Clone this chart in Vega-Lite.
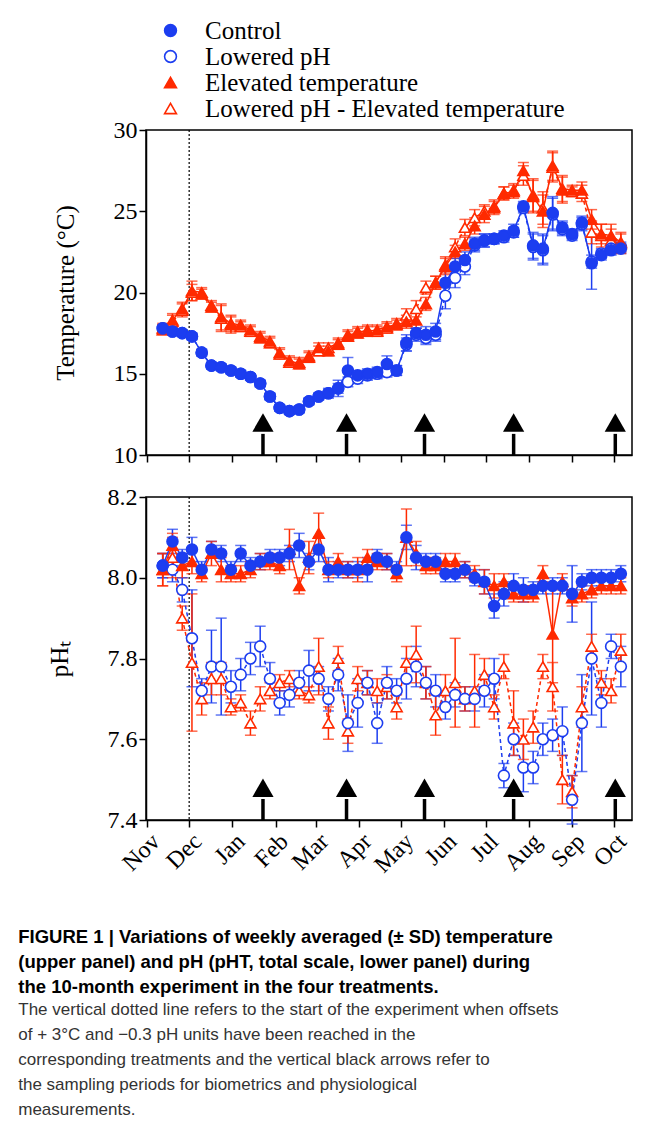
{
  "$schema": "https://vega.github.io/schema/vega-lite/v6.json",
  "background": "white",
  "padding": {"left": 18, "top": 17, "right": 10, "bottom": 10},
  "config": {
    "view": {"stroke": "black", "strokeWidth": 1.5},
    "axis": {"grid": false, "labelFont": "Liberation Serif", "labelFontSize": 24, "labelColor": "black", "titleFont": "Liberation Serif", "titleFontSize": 25, "titleFontWeight": "normal", "titleColor": "black", "tickColor": "black", "tickSize": 7, "tickWidth": 1.5, "domainColor": "black", "domainWidth": 1.5, "labelOverlap": false}
  },
  "title": {
    "text": ["FIGURE 1 | Variations of weekly averaged (± SD) temperature", "(upper panel) and pH (pHT, total scale, lower panel) during", "the 10-month experiment in the four treatments."],
    "subtitle": ["The vertical dotted line refers to the start of the experiment when offsets", "of + 3°C and −0.3 pH units have been reached in the", "corresponding treatments and the vertical black arrows refer to", "the sampling periods for biometrics and physiological", "measurements."],
    "orient": "bottom", "anchor": "start", "offset": 50, "dx": -28,
    "font": "Liberation Sans", "fontSize": 18.5, "fontWeight": "bold", "color": "black", "lineHeight": 25,
    "subtitleFont": "Liberation Sans", "subtitleFontSize": 17, "subtitleColor": "#333", "subtitleLineHeight": 25, "subtitlePadding": 6
  },
  "datasets": {
    "w": [
      {"d":"2011-11-12","g":"Control","t":17.8,"ts":0.2,"p":8.03,"ps":0.03},
      {"d":"2011-11-19","g":"Control","t":17.6,"ts":0.2,"p":8.09,"ps":0.03},
      {"d":"2011-11-26","g":"Control","t":17.5,"ts":0.2,"p":8.05,"ps":0.02},
      {"d":"2011-12-03","g":"Control","t":17.3,"ts":0.2,"p":8.07,"ps":0.03},
      {"d":"2011-12-10","g":"Control","t":16.3,"ts":0.2,"p":8.02,"ps":0.02},
      {"d":"2011-12-17","g":"Control","t":15.5,"ts":0.2,"p":8.07,"ps":0.02},
      {"d":"2011-12-24","g":"Control","t":15.4,"ts":0.2,"p":8.06,"ps":0.02},
      {"d":"2011-12-31","g":"Control","t":15.2,"ts":0.2,"p":8.02,"ps":0.02},
      {"d":"2012-01-07","g":"Control","t":15.0,"ts":0.2,"p":8.06,"ps":0.02},
      {"d":"2012-01-14","g":"Control","t":14.8,"ts":0.2,"p":8.03,"ps":0.02},
      {"d":"2012-01-21","g":"Control","t":14.4,"ts":0.2,"p":8.04,"ps":0.02},
      {"d":"2012-01-28","g":"Control","t":13.6,"ts":0.2,"p":8.05,"ps":0.02},
      {"d":"2012-02-04","g":"Control","t":12.9,"ts":0.2,"p":8.05,"ps":0.02},
      {"d":"2012-02-11","g":"Control","t":12.7,"ts":0.2,"p":8.06,"ps":0.02},
      {"d":"2012-02-18","g":"Control","t":12.8,"ts":0.2,"p":8.08,"ps":0.03},
      {"d":"2012-02-25","g":"Control","t":13.3,"ts":0.2,"p":8.04,"ps":0.02},
      {"d":"2012-03-03","g":"Control","t":13.6,"ts":0.2,"p":8.07,"ps":0.03},
      {"d":"2012-03-10","g":"Control","t":13.8,"ts":0.3,"p":8.02,"ps":0.03},
      {"d":"2012-03-17","g":"Control","t":14.1,"ts":0.5,"p":8.02,"ps":0.02},
      {"d":"2012-03-24","g":"Control","t":15.2,"ts":0.8,"p":8.02,"ps":0.02},
      {"d":"2012-03-31","g":"Control","t":14.9,"ts":0.3,"p":8.02,"ps":0.02},
      {"d":"2012-04-07","g":"Control","t":15.0,"ts":0.3,"p":8.02,"ps":0.03},
      {"d":"2012-04-14","g":"Control","t":15.1,"ts":0.3,"p":8.05,"ps":0.02},
      {"d":"2012-04-21","g":"Control","t":15.6,"ts":0.5,"p":8.04,"ps":0.02},
      {"d":"2012-04-28","g":"Control","t":15.2,"ts":0.3,"p":8.02,"ps":0.02},
      {"d":"2012-05-05","g":"Control","t":16.9,"ts":0.5,"p":8.10,"ps":0.03},
      {"d":"2012-05-12","g":"Control","t":17.5,"ts":0.3,"p":8.05,"ps":0.03},
      {"d":"2012-05-19","g":"Control","t":17.4,"ts":0.5,"p":8.04,"ps":0.02},
      {"d":"2012-05-26","g":"Control","t":17.6,"ts":0.5,"p":8.04,"ps":0.02},
      {"d":"2012-06-02","g":"Control","t":20.6,"ts":0.8,"p":8.01,"ps":0.02},
      {"d":"2012-06-09","g":"Control","t":21.6,"ts":0.5,"p":8.01,"ps":0.02},
      {"d":"2012-06-16","g":"Control","t":22.0,"ts":0.5,"p":8.02,"ps":0.02},
      {"d":"2012-06-23","g":"Control","t":23.0,"ts":0.4,"p":8.00,"ps":0.02},
      {"d":"2012-06-30","g":"Control","t":23.2,"ts":0.4,"p":7.99,"ps":0.03},
      {"d":"2012-07-07","g":"Control","t":23.3,"ts":0.3,"p":7.93,"ps":0.03},
      {"d":"2012-07-14","g":"Control","t":23.5,"ts":0.3,"p":7.96,"ps":0.03},
      {"d":"2012-07-21","g":"Control","t":23.8,"ts":0.4,"p":7.98,"ps":0.03},
      {"d":"2012-07-28","g":"Control","t":25.3,"ts":0.3,"p":7.97,"ps":0.03},
      {"d":"2012-08-04","g":"Control","t":22.9,"ts":0.8,"p":7.97,"ps":0.02},
      {"d":"2012-08-11","g":"Control","t":22.7,"ts":0.9,"p":7.98,"ps":0.02},
      {"d":"2012-08-18","g":"Control","t":24.9,"ts":1.0,"p":7.98,"ps":0.02},
      {"d":"2012-08-25","g":"Control","t":24.0,"ts":0.4,"p":7.98,"ps":0.02},
      {"d":"2012-09-01","g":"Control","t":23.6,"ts":0.3,"p":7.96,"ps":0.07},
      {"d":"2012-09-08","g":"Control","t":24.3,"ts":0.4,"p":7.99,"ps":0.02},
      {"d":"2012-09-15","g":"Control","t":21.8,"ts":1.6,"p":8.00,"ps":0.02},
      {"d":"2012-09-22","g":"Control","t":22.3,"ts":0.3,"p":8.00,"ps":0.02},
      {"d":"2012-09-29","g":"Control","t":22.6,"ts":0.3,"p":8.00,"ps":0.02},
      {"d":"2012-10-06","g":"Control","t":22.7,"ts":0.3,"p":8.01,"ps":0.02},

      {"d":"2011-11-12","g":"Lowered pH","t":17.8,"ts":0.2,"p":8.03,"ps":0.03},
      {"d":"2011-11-19","g":"Lowered pH","t":17.6,"ts":0.2,"p":8.02,"ps":0.03},
      {"d":"2011-11-26","g":"Lowered pH","t":17.5,"ts":0.2,"p":7.97,"ps":0.03},
      {"d":"2011-12-03","g":"Lowered pH","t":17.3,"ts":0.2,"p":7.85,"ps":0.12},
      {"d":"2011-12-10","g":"Lowered pH","t":16.3,"ts":0.2,"p":7.72,"ps":0.03},
      {"d":"2011-12-17","g":"Lowered pH","t":15.5,"ts":0.2,"p":7.78,"ps":0.09},
      {"d":"2011-12-24","g":"Lowered pH","t":15.4,"ts":0.2,"p":7.78,"ps":0.12},
      {"d":"2011-12-31","g":"Lowered pH","t":15.2,"ts":0.2,"p":7.73,"ps":0.04},
      {"d":"2012-01-07","g":"Lowered pH","t":15.0,"ts":0.2,"p":7.76,"ps":0.04},
      {"d":"2012-01-14","g":"Lowered pH","t":14.8,"ts":0.2,"p":7.80,"ps":0.04},
      {"d":"2012-01-21","g":"Lowered pH","t":14.4,"ts":0.2,"p":7.83,"ps":0.05},
      {"d":"2012-01-28","g":"Lowered pH","t":13.6,"ts":0.2,"p":7.75,"ps":0.04},
      {"d":"2012-02-04","g":"Lowered pH","t":12.9,"ts":0.2,"p":7.69,"ps":0.03},
      {"d":"2012-02-11","g":"Lowered pH","t":12.7,"ts":0.2,"p":7.71,"ps":0.03},
      {"d":"2012-02-18","g":"Lowered pH","t":12.8,"ts":0.2,"p":7.74,"ps":0.03},
      {"d":"2012-02-25","g":"Lowered pH","t":13.3,"ts":0.2,"p":7.77,"ps":0.05},
      {"d":"2012-03-03","g":"Lowered pH","t":13.6,"ts":0.2,"p":7.75,"ps":0.03},
      {"d":"2012-03-10","g":"Lowered pH","t":13.8,"ts":0.2,"p":7.70,"ps":0.03},
      {"d":"2012-03-17","g":"Lowered pH","t":14.1,"ts":0.3,"p":7.76,"ps":0.04},
      {"d":"2012-03-24","g":"Lowered pH","t":14.5,"ts":0.3,"p":7.64,"ps":0.07},
      {"d":"2012-03-31","g":"Lowered pH","t":14.7,"ts":0.3,"p":7.69,"ps":0.06},
      {"d":"2012-04-07","g":"Lowered pH","t":14.9,"ts":0.3,"p":7.74,"ps":0.03},
      {"d":"2012-04-14","g":"Lowered pH","t":15.0,"ts":0.3,"p":7.64,"ps":0.05},
      {"d":"2012-04-21","g":"Lowered pH","t":15.1,"ts":0.3,"p":7.74,"ps":0.04},
      {"d":"2012-04-28","g":"Lowered pH","t":15.2,"ts":0.3,"p":7.72,"ps":0.03},
      {"d":"2012-05-05","g":"Lowered pH","t":16.8,"ts":0.4,"p":7.75,"ps":0.05},
      {"d":"2012-05-12","g":"Lowered pH","t":17.4,"ts":0.4,"p":7.78,"ps":0.05},
      {"d":"2012-05-19","g":"Lowered pH","t":17.2,"ts":0.4,"p":7.74,"ps":0.04},
      {"d":"2012-05-26","g":"Lowered pH","t":17.4,"ts":0.4,"p":7.72,"ps":0.04},
      {"d":"2012-06-02","g":"Lowered pH","t":19.8,"ts":0.8,"p":7.68,"ps":0.03},
      {"d":"2012-06-09","g":"Lowered pH","t":20.9,"ts":0.6,"p":7.71,"ps":0.03},
      {"d":"2012-06-16","g":"Lowered pH","t":21.6,"ts":0.5,"p":7.70,"ps":0.03},
      {"d":"2012-06-23","g":"Lowered pH","t":22.9,"ts":0.4,"p":7.70,"ps":0.03},
      {"d":"2012-06-30","g":"Lowered pH","t":23.2,"ts":0.4,"p":7.72,"ps":0.04},
      {"d":"2012-07-07","g":"Lowered pH","t":23.3,"ts":0.3,"p":7.75,"ps":0.05},
      {"d":"2012-07-14","g":"Lowered pH","t":23.4,"ts":0.3,"p":7.51,"ps":0.03},
      {"d":"2012-07-21","g":"Lowered pH","t":23.7,"ts":0.3,"p":7.60,"ps":0.04},
      {"d":"2012-07-28","g":"Lowered pH","t":25.2,"ts":0.3,"p":7.53,"ps":0.06},
      {"d":"2012-08-04","g":"Lowered pH","t":22.8,"ts":0.8,"p":7.53,"ps":0.04},
      {"d":"2012-08-11","g":"Lowered pH","t":22.6,"ts":0.9,"p":7.60,"ps":0.04},
      {"d":"2012-08-18","g":"Lowered pH","t":24.8,"ts":1.0,"p":7.61,"ps":0.04},
      {"d":"2012-08-25","g":"Lowered pH","t":23.9,"ts":0.4,"p":7.62,"ps":0.06},
      {"d":"2012-09-01","g":"Lowered pH","t":23.5,"ts":0.3,"p":7.45,"ps":0.06},
      {"d":"2012-09-08","g":"Lowered pH","t":24.2,"ts":0.4,"p":7.64,"ps":0.12},
      {"d":"2012-09-15","g":"Lowered pH","t":21.9,"ts":0.4,"p":7.80,"ps":0.14},
      {"d":"2012-09-22","g":"Lowered pH","t":22.4,"ts":0.3,"p":7.69,"ps":0.06},
      {"d":"2012-09-29","g":"Lowered pH","t":22.7,"ts":0.3,"p":7.83,"ps":0.03},
      {"d":"2012-10-06","g":"Lowered pH","t":22.8,"ts":0.3,"p":7.78,"ps":0.05},

      {"d":"2011-11-12","g":"Elevated temperature","t":17.8,"ts":0.3,"p":8.02,"ps":0.04},
      {"d":"2011-11-19","g":"Elevated temperature","t":18.3,"ts":0.4,"p":8.08,"ps":0.03},
      {"d":"2011-11-26","g":"Elevated temperature","t":19.0,"ts":0.4,"p":8.03,"ps":0.03},
      {"d":"2011-12-03","g":"Elevated temperature","t":20.1,"ts":0.6,"p":8.04,"ps":0.03},
      {"d":"2011-12-10","g":"Elevated temperature","t":20.0,"ts":0.3,"p":8.01,"ps":0.02},
      {"d":"2011-12-17","g":"Elevated temperature","t":19.2,"ts":0.3,"p":8.06,"ps":0.03},
      {"d":"2011-12-24","g":"Elevated temperature","t":18.5,"ts":0.8,"p":8.02,"ps":0.03},
      {"d":"2011-12-31","g":"Elevated temperature","t":18.1,"ts":0.5,"p":8.01,"ps":0.02},
      {"d":"2012-01-07","g":"Elevated temperature","t":18.0,"ts":0.3,"p":8.01,"ps":0.02},
      {"d":"2012-01-14","g":"Elevated temperature","t":17.7,"ts":0.3,"p":8.02,"ps":0.02},
      {"d":"2012-01-21","g":"Elevated temperature","t":17.3,"ts":0.3,"p":8.04,"ps":0.02},
      {"d":"2012-01-28","g":"Elevated temperature","t":17.0,"ts":0.3,"p":8.04,"ps":0.02},
      {"d":"2012-02-04","g":"Elevated temperature","t":16.3,"ts":0.3,"p":8.03,"ps":0.02},
      {"d":"2012-02-11","g":"Elevated temperature","t":15.8,"ts":0.3,"p":8.07,"ps":0.05},
      {"d":"2012-02-18","g":"Elevated temperature","t":15.6,"ts":0.3,"p":7.98,"ps":0.02},
      {"d":"2012-02-25","g":"Elevated temperature","t":16.0,"ts":0.3,"p":8.05,"ps":0.04},
      {"d":"2012-03-03","g":"Elevated temperature","t":16.6,"ts":0.3,"p":8.11,"ps":0.05},
      {"d":"2012-03-10","g":"Elevated temperature","t":16.4,"ts":0.3,"p":8.02,"ps":0.02},
      {"d":"2012-03-17","g":"Elevated temperature","t":16.8,"ts":0.3,"p":8.04,"ps":0.02},
      {"d":"2012-03-24","g":"Elevated temperature","t":17.3,"ts":0.3,"p":8.02,"ps":0.02},
      {"d":"2012-03-31","g":"Elevated temperature","t":17.6,"ts":0.3,"p":8.02,"ps":0.03},
      {"d":"2012-04-07","g":"Elevated temperature","t":17.6,"ts":0.3,"p":8.05,"ps":0.02},
      {"d":"2012-04-14","g":"Elevated temperature","t":17.7,"ts":0.3,"p":8.04,"ps":0.02},
      {"d":"2012-04-21","g":"Elevated temperature","t":17.9,"ts":0.3,"p":8.04,"ps":0.02},
      {"d":"2012-04-28","g":"Elevated temperature","t":18.0,"ts":0.3,"p":8.01,"ps":0.02},
      {"d":"2012-05-05","g":"Elevated temperature","t":18.2,"ts":0.4,"p":8.10,"ps":0.07},
      {"d":"2012-05-12","g":"Elevated temperature","t":18.3,"ts":0.5,"p":8.06,"ps":0.03},
      {"d":"2012-05-19","g":"Elevated temperature","t":19.3,"ts":0.4,"p":8.03,"ps":0.02},
      {"d":"2012-05-26","g":"Elevated temperature","t":20.6,"ts":0.4,"p":8.03,"ps":0.02},
      {"d":"2012-06-02","g":"Elevated temperature","t":21.6,"ts":0.5,"p":8.04,"ps":0.02},
      {"d":"2012-06-09","g":"Elevated temperature","t":22.5,"ts":0.4,"p":8.04,"ps":0.02},
      {"d":"2012-06-16","g":"Elevated temperature","t":23.0,"ts":0.4,"p":8.02,"ps":0.02},
      {"d":"2012-06-23","g":"Elevated temperature","t":24.1,"ts":0.5,"p":8.01,"ps":0.02},
      {"d":"2012-06-30","g":"Elevated temperature","t":24.8,"ts":0.5,"p":7.99,"ps":0.03},
      {"d":"2012-07-07","g":"Elevated temperature","t":25.2,"ts":0.4,"p":7.98,"ps":0.03},
      {"d":"2012-07-14","g":"Elevated temperature","t":26.1,"ts":0.4,"p":7.99,"ps":0.02},
      {"d":"2012-07-21","g":"Elevated temperature","t":26.2,"ts":0.4,"p":7.96,"ps":0.02},
      {"d":"2012-07-28","g":"Elevated temperature","t":27.5,"ts":0.5,"p":7.96,"ps":0.02},
      {"d":"2012-08-04","g":"Elevated temperature","t":25.9,"ts":1.0,"p":7.96,"ps":0.02},
      {"d":"2012-08-11","g":"Elevated temperature","t":25.0,"ts":1.0,"p":8.01,"ps":0.02},
      {"d":"2012-08-18","g":"Elevated temperature","t":27.8,"ts":0.9,"p":7.86,"ps":0.12},
      {"d":"2012-08-25","g":"Elevated temperature","t":26.4,"ts":0.8,"p":7.99,"ps":0.02},
      {"d":"2012-09-01","g":"Elevated temperature","t":26.3,"ts":0.3,"p":7.95,"ps":0.02},
      {"d":"2012-09-08","g":"Elevated temperature","t":26.3,"ts":0.5,"p":7.96,"ps":0.02},
      {"d":"2012-09-15","g":"Elevated temperature","t":24.5,"ts":0.6,"p":7.97,"ps":0.02},
      {"d":"2012-09-22","g":"Elevated temperature","t":23.6,"ts":0.6,"p":7.98,"ps":0.02},
      {"d":"2012-09-29","g":"Elevated temperature","t":23.5,"ts":0.7,"p":7.98,"ps":0.02},
      {"d":"2012-10-06","g":"Elevated temperature","t":23.1,"ts":0.6,"p":7.98,"ps":0.02},

      {"d":"2011-11-12","g":"Lowered pH - Elevated temperature","t":17.7,"ts":0.3,"p":8.02,"ps":0.04},
      {"d":"2011-11-19","g":"Lowered pH - Elevated temperature","t":18.2,"ts":0.4,"p":8.05,"ps":0.05},
      {"d":"2011-11-26","g":"Lowered pH - Elevated temperature","t":18.9,"ts":0.4,"p":7.90,"ps":0.03},
      {"d":"2011-12-03","g":"Lowered pH - Elevated temperature","t":20.0,"ts":0.5,"p":7.79,"ps":0.17},
      {"d":"2011-12-10","g":"Lowered pH - Elevated temperature","t":19.9,"ts":0.3,"p":7.70,"ps":0.04},
      {"d":"2011-12-17","g":"Lowered pH - Elevated temperature","t":19.1,"ts":0.3,"p":7.75,"ps":0.04},
      {"d":"2011-12-24","g":"Lowered pH - Elevated temperature","t":18.4,"ts":0.8,"p":7.75,"ps":0.04},
      {"d":"2011-12-31","g":"Lowered pH - Elevated temperature","t":18.0,"ts":0.5,"p":7.68,"ps":0.02},
      {"d":"2012-01-07","g":"Lowered pH - Elevated temperature","t":17.9,"ts":0.3,"p":7.69,"ps":0.02},
      {"d":"2012-01-14","g":"Lowered pH - Elevated temperature","t":17.6,"ts":0.3,"p":7.64,"ps":0.03},
      {"d":"2012-01-21","g":"Lowered pH - Elevated temperature","t":17.2,"ts":0.3,"p":7.70,"ps":0.03},
      {"d":"2012-01-28","g":"Lowered pH - Elevated temperature","t":16.9,"ts":0.3,"p":7.72,"ps":0.02},
      {"d":"2012-02-04","g":"Lowered pH - Elevated temperature","t":16.2,"ts":0.3,"p":7.74,"ps":0.02},
      {"d":"2012-02-11","g":"Lowered pH - Elevated temperature","t":15.7,"ts":0.3,"p":7.75,"ps":0.02},
      {"d":"2012-02-18","g":"Lowered pH - Elevated temperature","t":15.7,"ts":0.3,"p":7.72,"ps":0.02},
      {"d":"2012-02-25","g":"Lowered pH - Elevated temperature","t":16.1,"ts":0.3,"p":7.71,"ps":0.02},
      {"d":"2012-03-03","g":"Lowered pH - Elevated temperature","t":16.4,"ts":0.3,"p":7.78,"ps":0.07},
      {"d":"2012-03-10","g":"Lowered pH - Elevated temperature","t":16.6,"ts":0.3,"p":7.64,"ps":0.04},
      {"d":"2012-03-17","g":"Lowered pH - Elevated temperature","t":16.9,"ts":0.3,"p":7.80,"ps":0.03},
      {"d":"2012-03-24","g":"Lowered pH - Elevated temperature","t":17.4,"ts":0.3,"p":7.62,"ps":0.03},
      {"d":"2012-03-31","g":"Lowered pH - Elevated temperature","t":17.5,"ts":0.3,"p":7.75,"ps":0.03},
      {"d":"2012-04-07","g":"Lowered pH - Elevated temperature","t":17.7,"ts":0.3,"p":7.74,"ps":0.03},
      {"d":"2012-04-14","g":"Lowered pH - Elevated temperature","t":17.6,"ts":0.3,"p":7.72,"ps":0.03},
      {"d":"2012-04-21","g":"Lowered pH - Elevated temperature","t":17.8,"ts":0.3,"p":7.73,"ps":0.03},
      {"d":"2012-04-28","g":"Lowered pH - Elevated temperature","t":18.1,"ts":0.3,"p":7.68,"ps":0.03},
      {"d":"2012-05-05","g":"Lowered pH - Elevated temperature","t":18.6,"ts":0.4,"p":7.79,"ps":0.04},
      {"d":"2012-05-12","g":"Lowered pH - Elevated temperature","t":19.0,"ts":0.5,"p":7.81,"ps":0.07},
      {"d":"2012-05-19","g":"Lowered pH - Elevated temperature","t":20.3,"ts":0.4,"p":7.74,"ps":0.04},
      {"d":"2012-05-26","g":"Lowered pH - Elevated temperature","t":20.6,"ts":0.4,"p":7.66,"ps":0.05},
      {"d":"2012-06-02","g":"Lowered pH - Elevated temperature","t":21.7,"ts":0.5,"p":7.72,"ps":0.04},
      {"d":"2012-06-09","g":"Lowered pH - Elevated temperature","t":22.8,"ts":0.5,"p":7.74,"ps":0.11},
      {"d":"2012-06-16","g":"Lowered pH - Elevated temperature","t":24.0,"ts":0.5,"p":7.70,"ps":0.03},
      {"d":"2012-06-23","g":"Lowered pH - Elevated temperature","t":24.6,"ts":0.5,"p":7.72,"ps":0.09},
      {"d":"2012-06-30","g":"Lowered pH - Elevated temperature","t":25.0,"ts":0.4,"p":7.76,"ps":0.04},
      {"d":"2012-07-07","g":"Lowered pH - Elevated temperature","t":25.3,"ts":0.4,"p":7.68,"ps":0.03},
      {"d":"2012-07-14","g":"Lowered pH - Elevated temperature","t":26.1,"ts":0.4,"p":7.78,"ps":0.03},
      {"d":"2012-07-21","g":"Lowered pH - Elevated temperature","t":26.3,"ts":0.4,"p":7.64,"ps":0.08},
      {"d":"2012-07-28","g":"Lowered pH - Elevated temperature","t":27.2,"ts":0.6,"p":7.60,"ps":0.05},
      {"d":"2012-08-04","g":"Lowered pH - Elevated temperature","t":26.0,"ts":1.0,"p":7.63,"ps":0.04},
      {"d":"2012-08-11","g":"Lowered pH - Elevated temperature","t":25.2,"ts":1.0,"p":7.78,"ps":0.03},
      {"d":"2012-08-18","g":"Lowered pH - Elevated temperature","t":27.7,"ts":0.9,"p":7.73,"ps":0.06},
      {"d":"2012-08-25","g":"Lowered pH - Elevated temperature","t":26.3,"ts":0.8,"p":7.50,"ps":0.06},
      {"d":"2012-09-01","g":"Lowered pH - Elevated temperature","t":26.2,"ts":0.3,"p":7.47,"ps":0.04},
      {"d":"2012-09-08","g":"Lowered pH - Elevated temperature","t":26.1,"ts":0.5,"p":7.68,"ps":0.05},
      {"d":"2012-09-15","g":"Lowered pH - Elevated temperature","t":23.7,"ts":0.7,"p":7.83,"ps":0.03},
      {"d":"2012-09-22","g":"Lowered pH - Elevated temperature","t":23.5,"ts":0.7,"p":7.74,"ps":0.03},
      {"d":"2012-09-29","g":"Lowered pH - Elevated temperature","t":23.2,"ts":0.7,"p":7.72,"ps":0.03},
      {"d":"2012-10-06","g":"Lowered pH - Elevated temperature","t":23.0,"ts":0.6,"p":7.82,"ps":0.04}
    ],
    "arrows": [{"a":"2012-01-23"},{"a":"2012-03-23"},{"a":"2012-05-18"},{"a":"2012-07-21"},{"a":"2012-10-02"}],
    "start": [{"s":"2011-12-01"}]
  },
  "spacing": 16,
  "vconcat": [
    {
      "width": 486, "height": 325,
      "layer": [
        {"data": {"name": "start"}, "mark": {"type": "rule", "color": "black", "strokeDash": [2, 2], "strokeWidth": 1.2},
          "encoding": {"x": {"field": "s", "type": "temporal", "scale": {"domain": [{"year": 2011, "month": 10, "date": 31}, {"year": 2012, "month": 10, "date": 14}]}}}},
        {"data": {"name": "w"}, "mark": {"type": "errorbar", "ticks": {"size": 11}, "thickness": 1.5},
          "encoding": {"x": {"field": "d", "type": "temporal"},
            "y": {"field": "t", "type": "quantitative", "title": "Temperature (°C)", "scale": {"domain": [10, 30], "nice": false, "zero": false}},
            "yError": {"field": "ts"},
            "color": {"field": "g", "type": "nominal", "legend": null, "scale": {"domain": ["Control", "Lowered pH", "Elevated temperature", "Lowered pH - Elevated temperature"], "range": ["#1c3df0", "#1c3df0", "#ff2a00", "#ff2a00"]}}}},
        {"data": {"name": "w"}, "mark": {"type": "line", "strokeWidth": 1.5},
          "encoding": {"x": {"field": "d", "type": "temporal"},
            "y": {"field": "t", "type": "quantitative", "title": "Temperature (°C)", "scale": {"domain": [10, 30], "nice": false, "zero": false}},
            "color": {"field": "g", "type": "nominal", "legend": null},
            "strokeDash": {"field": "g", "type": "nominal", "legend": null, "scale": {"domain": ["Control", "Lowered pH", "Elevated temperature", "Lowered pH - Elevated temperature"], "range": [[1, 0], [4, 3], [1, 0], [4, 3]]}}}},
        {"data": {"name": "w"}, "mark": {"type": "point", "size": 120, "strokeWidth": 1.6, "opacity": 1},
          "encoding": {
            "x": {"field": "d", "type": "temporal", "title": null,
              "axis": {"labels": false, "values": [{"year":2011,"month":11,"date":1},{"year":2011,"month":12,"date":1},{"year":2012,"month":1,"date":1},{"year":2012,"month":2,"date":1},{"year":2012,"month":3,"date":1},{"year":2012,"month":4,"date":1},{"year":2012,"month":5,"date":1},{"year":2012,"month":6,"date":1},{"year":2012,"month":7,"date":1},{"year":2012,"month":8,"date":1},{"year":2012,"month":9,"date":1},{"year":2012,"month":10,"date":1}]}},
            "y": {"field": "t", "type": "quantitative", "title": "Temperature (°C)", "scale": {"domain": [10, 30], "nice": false, "zero": false}, "axis": {"values": [10, 15, 20, 25, 30], "titlePadding": 35}},
            "order": {"field": "g", "sort": "descending"},
            "stroke": {"field": "g", "type": "nominal", "title": null, "scale": {"domain": ["Control", "Lowered pH", "Elevated temperature", "Lowered pH - Elevated temperature"], "range": ["#1c3df0", "#1c3df0", "#ff2a00", "#ff2a00"]},
              "legend": {"orient": "none", "legendX": 12, "legendY": -112, "labelFont": "Liberation Serif", "labelFontSize": 25, "labelColor": "black", "symbolSize": 140, "symbolStrokeWidth": 1.6, "rowPadding": 0, "labelLimit": 500, "labelOffset": 22}},
            "fill": {"field": "g", "type": "nominal", "title": null, "scale": {"domain": ["Control", "Lowered pH", "Elevated temperature", "Lowered pH - Elevated temperature"], "range": ["#1c3df0", "white", "#ff2a00", "white"]},
              "legend": {"orient": "none", "legendX": 12, "legendY": -112, "labelFont": "Liberation Serif", "labelFontSize": 25, "labelColor": "black", "symbolSize": 140, "symbolStrokeWidth": 1.6, "rowPadding": 0, "labelLimit": 500, "labelOffset": 22}},
            "shape": {"field": "g", "type": "nominal", "title": null, "scale": {"domain": ["Control", "Lowered pH", "Elevated temperature", "Lowered pH - Elevated temperature"], "range": ["circle", "circle", "triangle-up", "triangle-up"]},
              "legend": {"orient": "none", "legendX": 12, "legendY": -112, "labelFont": "Liberation Serif", "labelFontSize": 25, "labelColor": "black", "symbolSize": 140, "symbolStrokeWidth": 1.6, "rowPadding": 0, "labelLimit": 500, "labelOffset": 22}}
          }},
        {"data": {"name": "arrows"}, "mark": {"type": "rule", "color": "black", "strokeWidth": 3.5},
          "encoding": {"x": {"field": "a", "type": "temporal"}, "y": {"datum": 10, "scale": {"domain": [10, 30], "nice": false, "zero": false}}, "y2": {"datum": 11.3}}},
        {"data": {"name": "arrows"}, "mark": {"type": "point", "shape": "triangle-up", "filled": true, "color": "black", "size": 450, "opacity": 1},
          "encoding": {"x": {"field": "a", "type": "temporal"}, "y": {"datum": 12, "scale": {"domain": [10, 30], "nice": false, "zero": false}}}}
      ]
    },
    {
      "width": 486, "height": 323,
      "layer": [
        {"data": {"name": "start"}, "mark": {"type": "rule", "color": "black", "strokeDash": [2, 2], "strokeWidth": 1.2},
          "encoding": {"x": {"field": "s", "type": "temporal", "scale": {"domain": [{"year": 2011, "month": 10, "date": 31}, {"year": 2012, "month": 10, "date": 14}]}}}},
        {"data": {"name": "w"}, "mark": {"type": "errorbar", "ticks": {"size": 11}, "thickness": 1.5},
          "encoding": {"x": {"field": "d", "type": "temporal"},
            "y": {"field": "p", "type": "quantitative", "title": "pHₜ", "scale": {"domain": [7.4, 8.2], "nice": false, "zero": false}},
            "yError": {"field": "ps"},
            "color": {"field": "g", "type": "nominal", "legend": null, "scale": {"domain": ["Control", "Lowered pH", "Elevated temperature", "Lowered pH - Elevated temperature"], "range": ["#1c3df0", "#1c3df0", "#ff2a00", "#ff2a00"]}}}},
        {"data": {"name": "w"}, "mark": {"type": "line", "strokeWidth": 1.5},
          "encoding": {"x": {"field": "d", "type": "temporal"},
            "y": {"field": "p", "type": "quantitative", "title": "pHₜ", "scale": {"domain": [7.4, 8.2], "nice": false, "zero": false}},
            "color": {"field": "g", "type": "nominal", "legend": null},
            "strokeDash": {"field": "g", "type": "nominal", "legend": null, "scale": {"domain": ["Control", "Lowered pH", "Elevated temperature", "Lowered pH - Elevated temperature"], "range": [[1, 0], [4, 3], [1, 0], [4, 3]]}}}},
        {"data": {"name": "w"}, "mark": {"type": "point", "size": 120, "strokeWidth": 1.6, "opacity": 1},
          "encoding": {
            "x": {"field": "d", "type": "temporal", "title": null,
              "axis": {"format": "%b", "labelAngle": -45, "labelAlign": "right", "labelBaseline": "top", "labelPadding": 2, "values": [{"year":2011,"month":11,"date":1},{"year":2011,"month":12,"date":1},{"year":2012,"month":1,"date":1},{"year":2012,"month":2,"date":1},{"year":2012,"month":3,"date":1},{"year":2012,"month":4,"date":1},{"year":2012,"month":5,"date":1},{"year":2012,"month":6,"date":1},{"year":2012,"month":7,"date":1},{"year":2012,"month":8,"date":1},{"year":2012,"month":9,"date":1},{"year":2012,"month":10,"date":1}]}},
            "y": {"field": "p", "type": "quantitative", "title": "pHₜ", "scale": {"domain": [7.4, 8.2], "nice": false, "zero": false}, "axis": {"values": [7.4, 7.6, 7.8, 8.0, 8.2], "format": ".1f", "titlePadding": 35}},
            "order": {"field": "g", "sort": "descending"},
            "stroke": {"field": "g", "type": "nominal", "legend": null, "scale": {"domain": ["Control", "Lowered pH", "Elevated temperature", "Lowered pH - Elevated temperature"], "range": ["#1c3df0", "#1c3df0", "#ff2a00", "#ff2a00"]}},
            "fill": {"field": "g", "type": "nominal", "legend": null, "scale": {"domain": ["Control", "Lowered pH", "Elevated temperature", "Lowered pH - Elevated temperature"], "range": ["#1c3df0", "white", "#ff2a00", "white"]}},
            "shape": {"field": "g", "type": "nominal", "legend": null, "scale": {"domain": ["Control", "Lowered pH", "Elevated temperature", "Lowered pH - Elevated temperature"], "range": ["circle", "circle", "triangle-up", "triangle-up"]}}
          }},
        {"data": {"name": "arrows"}, "mark": {"type": "rule", "color": "black", "strokeWidth": 3.5},
          "encoding": {"x": {"field": "a", "type": "temporal"}, "y": {"datum": 7.4, "scale": {"domain": [7.4, 8.2], "nice": false, "zero": false}}, "y2": {"datum": 7.452}}},
        {"data": {"name": "arrows"}, "mark": {"type": "point", "shape": "triangle-up", "filled": true, "color": "black", "size": 450, "opacity": 1},
          "encoding": {"x": {"field": "a", "type": "temporal"}, "y": {"datum": 7.48, "scale": {"domain": [7.4, 8.2], "nice": false, "zero": false}}}}
      ]
    }
  ],
  "resolve": {"scale": {"y": "independent"}, "legend": {"stroke": "independent", "fill": "independent", "shape": "independent"}}
}
